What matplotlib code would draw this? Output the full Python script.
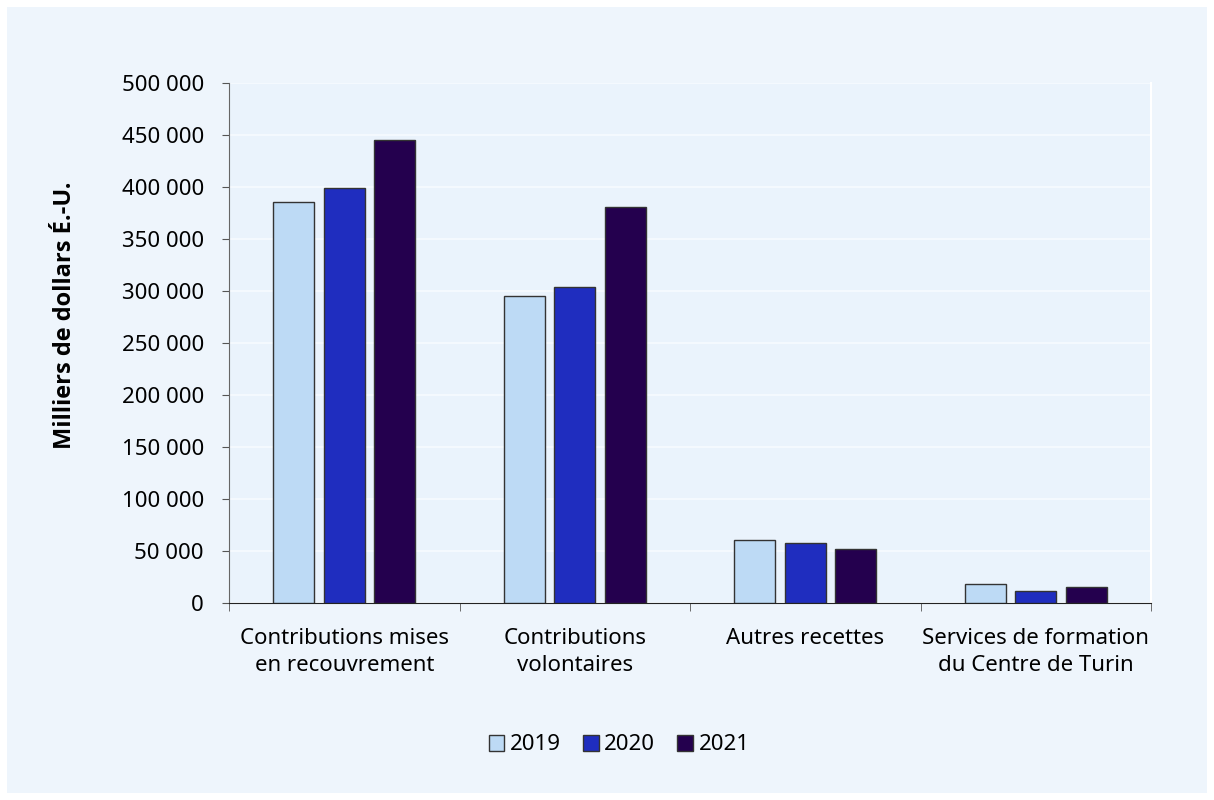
import matplotlib.pyplot as plt
import numpy as np
from matplotlib.patches import Rectangle
from matplotlib.ticker import FuncFormatter

plt.rcParams['font.family'] = ['Noto Sans', 'DejaVu Sans']

categories = ['Contributions mises\nen recouvrement', 'Contributions\nvolontaires',
              'Autres recettes', 'Services de formation\ndu Centre de Turin']
years = ['2019', '2020', '2021']
v2019 = [386000, 295000, 60500, 18500]
v2020 = [399000, 304000, 57500, 11500]
v2021 = [445000, 381000, 51500, 15000]
colors = ['#BDDAF5', '#1F2DBF', '#24004E']

fig = plt.figure(figsize=(12.14, 8), dpi=100)
fig.patch.set_facecolor('white')
fig.patches.append(Rectangle((7 / 1214, 7 / 800), 1200 / 1214, 786 / 800,
                             transform=fig.transFigure, facecolor='#EEF5FC',
                             edgecolor='none', zorder=-10))
ax = fig.add_axes([229 / 1214, 1 - 603 / 800, 922 / 1214, 520 / 800])
ax.set_facecolor('#EAF3FC')

x = np.arange(len(categories))
step = 0.219
width = 0.178
for i, (vals, yr) in enumerate(zip([v2019, v2020, v2021], years)):
    ax.bar(x + (i - 1) * step, vals, width, color=colors[i], edgecolor='#333333',
           linewidth=1, label=yr, zorder=3)

ax.set_xlim(-0.5, len(categories) - 0.5)
ax.set_ylim(0, 500000)
ax.set_yticks(np.arange(0, 500001, 50000))
ax.yaxis.set_major_formatter(FuncFormatter(lambda v, p: f'{int(v):,}'.replace(',', ' ')))
ax.grid(axis='y', color='#F7FBFF', linewidth=1.2, zorder=1)
ax.set_axisbelow(True)

ax.set_xticks(x)
ax.set_xticklabels(categories, fontsize=16, linespacing=1.35)
ax.set_xticks(np.arange(-0.5, len(categories)), minor=True)
ax.tick_params(axis='x', which='major', length=0, pad=18)
ax.tick_params(axis='x', which='minor', length=6, color='#555555')
ax.tick_params(axis='y', length=5, color='#555555', labelsize=16, pad=13)

ax.spines['top'].set_visible(False)
ax.spines['right'].set_color('white')
ax.spines['right'].set_linewidth(1.5)
ax.spines['left'].set_color('#666666')
ax.spines['bottom'].set_color('#222222')

fig.text(65 / 1214, 1 - 315.5 / 800, 'Milliers de dollars É.-U.', rotation=90,
         ha='center', va='center', fontsize=17, fontweight='bold',
         family=['Open Sans', 'DejaVu Sans'])

ax.legend(loc='center', bbox_to_anchor=(619 / 1214, 1 - 745 / 800),
          bbox_transform=fig.transFigure, ncol=3, frameon=False, fontsize=16,
          handlelength=0.7, handleheight=0.7, handletextpad=0.25, columnspacing=1.0)

fig.savefig('out.png', dpi=100, facecolor=fig.get_facecolor())
